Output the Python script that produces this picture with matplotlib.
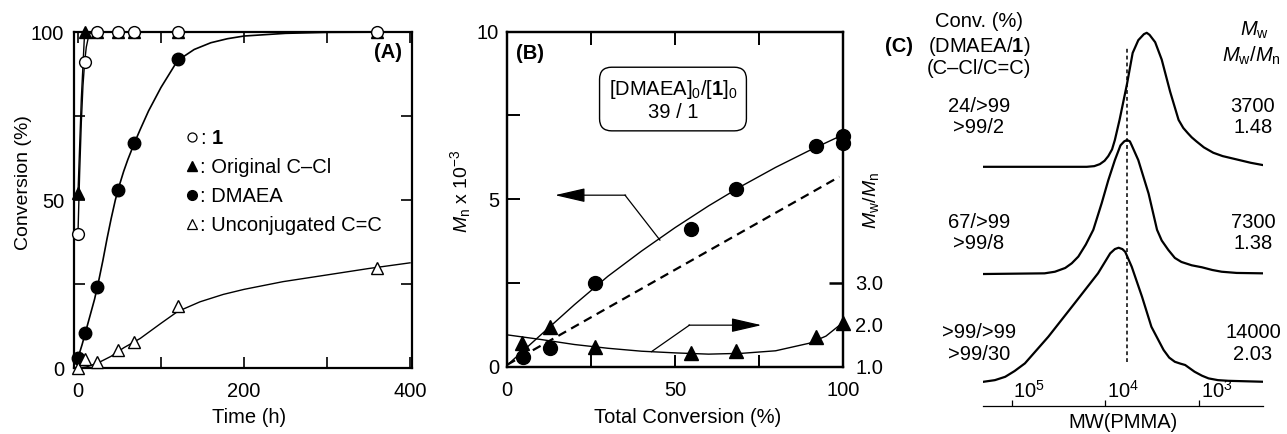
import matplotlib.pyplot as plt
from matplotlib.lines import Line2D

plt.rcParams['font.family'] = ['Liberation Sans', 'DejaVu Sans']
plt.rcParams['mathtext.fontset'] = 'custom'
plt.rcParams['mathtext.rm'] = 'Liberation Sans'
plt.rcParams['mathtext.it'] = 'Liberation Sans:italic'
plt.rcParams['mathtext.bf'] = 'Liberation Sans:bold'
plt.rcParams['font.size'] = 14.5

# ---------- (A) conversion vs time ----------
t_pts = [0, 8, 23, 48, 68, 120, 360]
conv_1 = [40, 91, 100, 100, 100, 100, 100]
conv_ccl = [52, 100, 100, 100, 100, 100, 100]
t_dmaea = [0, 8, 23, 48, 68, 120]
conv_dmaea = [3, 10.5, 24, 53, 67, 92]
conv_cc = [0, 2.6, 1.9, 5.5, 7.8, 18.5, 29.9]

# guide curves
fit1_t = [0, 2, 4, 6, 8, 10, 13, 16, 400]
fit1_y = [40, 58, 73, 84, 91, 95.5, 99, 100, 100]
fitccl_t = [0, 4, 8, 400]
fitccl_y = [52, 80, 100, 100]
fitdm_t = [0, 5, 10, 15, 20, 25, 30, 35, 40, 45, 50, 55, 60, 68, 75, 85, 100,
           120, 140, 160, 180, 200, 250, 300, 400]
fitdm_y = [3, 7, 11.5, 16, 20.5, 26, 32, 38.5, 44.5, 50, 54.5, 58.5, 62, 67, 71,
           76.5, 83.5, 91.5, 94.8, 96.8, 98, 98.8, 99.6, 99.9, 100]
fitcc_t = [0, 10, 24, 40, 55, 75, 100, 120, 147, 175, 200, 247, 300, 350, 400]
fitcc_y = [0, 0.3, 1.5, 3.5, 6, 8.8, 13.3, 16.8, 19.7, 21.9, 23.4, 25.7, 27.7,
           29.6, 31.3]

# ---------- (B) Mn and Mw/Mn vs total conversion ----------
b_conv_mn = [4.6, 12.7, 26.1, 54.7, 68.2, 92, 100, 100]
b_mn = [0.30, 0.57, 2.51, 4.10, 5.29, 6.59, 6.89, 6.69]
b_conv_pdi = [4.3, 12.7, 26.1, 54.7, 68.2, 92, 100]
b_pdi = [1.56, 1.96, 1.48, 1.32, 1.38, 1.70, 2.05]
fitmn_x = [0, 10, 20, 30, 40, 50, 60, 70, 80, 90, 100]
fitmn_y = [0.05, 0.95, 1.85, 2.7, 3.45, 4.15, 4.8, 5.4, 5.95, 6.45, 6.92]
theo_x = [0, 99]
theo_y = [0.06, 5.67]
fitpdi_x = [0, 10, 20, 30, 40, 50, 60, 70, 80, 90, 95, 100]
fitpdi_y = [1.76, 1.65, 1.53, 1.44, 1.37, 1.33, 1.30, 1.32, 1.38, 1.56, 1.73, 2.05]

# ---------- (C) SEC curves (log MW, normalised RI) ----------
sec_top_x = [5.30, 4.20, 4.12, 4.06, 4.01, 3.97, 3.93, 3.90, 3.85, 3.77, 3.71,
             3.65, 3.63, 3.59, 3.56, 3.53, 3.47, 3.40, 3.31, 3.22, 3.17, 3.12,
             3.08, 3.03, 2.95, 2.85, 2.75, 2.60, 2.45, 2.32]
sec_top_y = [0, 0, 0.005, 0.02, 0.045, 0.08, 0.13, 0.20, 0.35, 0.62, 0.85,
             0.945, 0.96, 0.99, 1.0, 0.985, 0.93, 0.80, 0.56, 0.35, 0.29, 0.25,
             0.22, 0.19, 0.145, 0.105, 0.08, 0.055, 0.03, 0.013]
sec_mid_x = [5.30, 4.65, 4.54, 4.43, 4.36, 4.29, 4.21, 4.13, 4.04, 3.97, 3.90,
             3.84, 3.80, 3.77, 3.74, 3.72, 3.65, 3.54, 3.45, 3.40, 3.33, 3.26,
             3.19, 3.08, 2.97, 2.86, 2.76, 2.60, 2.32]
sec_mid_y = [0, 0.005, 0.017, 0.045, 0.08, 0.13, 0.22, 0.33, 0.53, 0.70, 0.85,
             0.96, 0.99, 1.0, 0.99, 0.96, 0.85, 0.60, 0.33, 0.25, 0.18, 0.12,
             0.09, 0.065, 0.05, 0.03, 0.017, 0.008, 0.005]
sec_bot_x = [5.30, 5.18, 5.07, 4.97, 4.86, 4.61, 4.33, 4.08, 3.95, 3.90, 3.86,
             3.82, 3.79, 3.72, 3.61, 3.51, 3.38, 3.32, 3.26, 3.20, 3.15, 3.10,
             3.05, 2.97, 2.90, 2.80, 2.69, 2.32]
sec_bot_y = [0, 0.012, 0.037, 0.08, 0.137, 0.336, 0.585, 0.809, 0.958, 0.99, 1.0,
             0.99, 0.97, 0.858, 0.634, 0.410, 0.237, 0.18, 0.149, 0.135, 0.125,
             0.10, 0.075, 0.045, 0.025, 0.012, 0.007, 0]
sec_offsets = [1.604, 0.804, 0.0]
conv_labels = [('24/>99', '>99/2'), ('67/>99', '>99/8'), ('>99/>99', '>99/30')]
mw_labels = [('3700', '1.48'), ('7300', '1.38'), ('14000', '2.03')]
theo_logmw = 3.774

W, H = 1287, 434


def fx(x):
    return x / W


def fy(y):
    return 1 - y / H


fig = plt.figure(figsize=(12.87, 4.34), dpi=100)

# ======== panel A ========
ax1 = fig.add_axes([fx(74), fy(368), 338 / W, 336 / H])
ax1.plot(fit1_t, fit1_y, 'k-', lw=1.0)
ax1.plot(fitccl_t, fitccl_y, 'k-', lw=1.0)
ax1.plot(fitdm_t, fitdm_y, 'k-', lw=1.2)
ax1.plot(fitcc_t, fitcc_y, 'k-', lw=1.0)
ax1.plot(t_pts, conv_ccl, '^', color='k', ms=9, ls='none', clip_on=False, zorder=3)
ax1.plot(t_pts, conv_1, 'o', mfc='white', mec='k', mew=1.0, ms=8.5, ls='none',
         clip_on=False, zorder=4)
ax1.plot(t_dmaea, conv_dmaea, 'o', color='k', ms=9, ls='none', clip_on=False, zorder=4)
ax1.plot(t_pts, conv_cc, '^', mfc='white', mec='k', mew=1.0, ms=9, ls='none',
         clip_on=False, zorder=4)
ax1.set_xlim(-4.8, 402.4)
ax1.set_ylim(0, 100)
ax1.set_xticks([0, 200, 400])
ax1.set_xticks([100, 300], minor=True)
ax1.set_yticks([0, 50, 100])
ax1.set_yticks([25, 75], minor=True)
ax1.tick_params(which='both', direction='in', top=True, right=True, length=8, width=1.2)
ax1.tick_params(axis='x', which='major', pad=10)
ax1.tick_params(axis='y', which='major', pad=7)
for s in ax1.spines.values():
    s.set_linewidth(1.6)
ax1.set_xlabel('Time (h)')
ax1.xaxis.set_label_coords(0.519, -0.119)
ax1.set_ylabel('Conversion (%)', fontsize=14)
ax1.yaxis.set_label_coords(-0.124, 0.552)
ax1.text(0.929, 0.9375, '(A)', transform=ax1.transAxes, ha='center', va='center',
         fontweight='bold')
handles = [
    Line2D([], [], marker='o', mfc='white', mec='k', mew=0.9, ls='none', ms=6.5),
    Line2D([], [], marker='^', color='k', ls='none', ms=7),
    Line2D([], [], marker='o', color='k', ls='none', ms=7),
    Line2D([], [], marker='^', mfc='white', mec='k', mew=0.9, ls='none', ms=7),
]
labels = [r': $\mathbf{1}$', ': Original C–Cl', ': DMAEA', ': Unconjugated C=C']
ax1.legend(handles, labels, loc='upper left', bbox_to_anchor=(0.3275, 0.712),
           frameon=False, handlelength=0.7, handletextpad=0.05, labelspacing=0.5,
           borderpad=0, borderaxespad=0)

# ======== panel B ========
ax2 = fig.add_axes([fx(507.3), fy(366.7), 335.4 / W, 335 / H])
ax2.plot(fitmn_x, fitmn_y, 'k-', lw=1.0)
ax2.plot(theo_x, theo_y, 'k', lw=1.6, ls=(0, (4, 2.6)))
ax2.plot(b_conv_mn, b_mn, 'o', color='k', ms=10, ls='none', clip_on=False, zorder=4)
ax2.set_xlim(0, 100)
ax2.set_ylim(0, 10)
ax2.set_xticks([0, 50, 100])
ax2.set_xticks([25, 75], minor=True)
ax2.set_yticks([0, 5, 10])
ax2.set_yticks([2.5, 7.5], minor=True)
ax2.tick_params(which='both', direction='in', top=True, right=False, length=9, width=1.4)
ax2.tick_params(axis='x', which='major', pad=10)
ax2.tick_params(axis='y', which='major', pad=6)
for s in ax2.spines.values():
    s.set_linewidth(1.6)
ax2.set_xlabel('Total Conversion (%)')
ax2.xaxis.set_label_coords(0.539, -0.123)
ax2.set_ylabel(r'$M_\mathrm{n}$ x 10$^{-3}$', fontsize=14)
ax2.yaxis.set_label_coords(-0.102, 0.524)
ax2.text(0.068, 0.936, '(B)', transform=ax2.transAxes, ha='center', va='center',
         fontweight='bold')
ax2.text(49.4, 7.96, '[DMAEA]$_0$/[$\\mathbf{1}$]$_0$\n39 / 1', ha='center',
         va='center', linespacing=1.1,
         bbox=dict(boxstyle='round,pad=0.45,rounding_size=0.6', fc='white', ec='k', lw=1.0))
# arrows
ax2.plot([45.5, 35.1], [3.78, 5.12], 'k-', lw=0.9)
ax2.annotate('', xy=(14.2, 5.12), xytext=(35.3, 5.12),
             arrowprops=dict(arrowstyle='-|>,head_length=1.3,head_width=0.3',
                             color='k', lw=0.9, shrinkA=0, shrinkB=0))
ax2.plot([43, 54.3], [0.45, 1.24], 'k-', lw=0.9)
ax2.annotate('', xy=(75.8, 1.24), xytext=(54.1, 1.24),
             arrowprops=dict(arrowstyle='-|>,head_length=1.3,head_width=0.3',
                             color='k', lw=0.9, shrinkA=0, shrinkB=0))

ax2b = ax2.twinx()
ax2b.plot(fitpdi_x, fitpdi_y, 'k-', lw=1.0)
ax2b.plot(b_conv_pdi, b_pdi, '^', color='k', ms=10, ls='none', clip_on=False, zorder=4)
ax2b.set_ylim(1.0, 9.0)
ax2b.set_yticks([1, 2, 3])
ax2b.set_yticklabels(['1.0', '2.0', '3.0'])
ax2b.tick_params(axis='y', direction='in', length=10, width=1.8, pad=9)
for i, tk in enumerate(ax2b.yaxis.get_major_ticks()):
    if i < 2:
        tk.tick2line.set_visible(False)
for s in ax2b.spines.values():
    s.set_linewidth(1.6)
ax2b.set_ylabel(r'$M_\mathrm{w}$/$M_\mathrm{n}$', fontsize=14)
ax2b.yaxis.set_label_coords(1.055, 0.495)

# ======== panel C ========
ax3 = fig.add_axes([fx(983.3), fy(406), 280 / W, 376 / H])
for xs, ys, off in zip([sec_top_x, sec_mid_x, sec_bot_x],
                       [sec_top_y, sec_mid_y, sec_bot_y], sec_offsets):
    ax3.plot(xs, [v + off for v in ys], 'k-', lw=1.6, solid_joinstyle='round')
ax3.plot([theo_logmw, theo_logmw], [0.147, 2.498], 'k', lw=1.1, ls=(0, (2.5, 2)))
ax3.set_xlim(5.304, 2.316)
ax3.set_ylim(-0.181, 2.625)
for side in ['top', 'left', 'right']:
    ax3.spines[side].set_visible(False)
ax3.spines['bottom'].set_linewidth(0.9)
ax3.set_yticks([])
ax3.set_xticks([5, 4, 3])
ax3.set_xticklabels([])
ax3.tick_params(axis='x', direction='in', length=4, width=0.9)
for d in [5, 4, 3]:
    ax3.annotate(f'$10^{d}$', xy=(d, 0), xycoords=('data', 'axes fraction'),
                 xytext=(1, 3), textcoords='offset points', ha='left', va='bottom')
ax3.text(0.5, -0.043, 'MW(PMMA)', transform=ax3.transAxes, ha='center', va='center')

fig.text(fx(899.5), fy(46), '(C)', ha='center', va='center', fontweight='bold')
fig.text(fx(979), fy(21.7), 'Conv. (%)', ha='center', va='center')
fig.text(fx(979), fy(46), r'(DMAEA/$\mathbf{1}$)', ha='center', va='center')
fig.text(fx(979), fy(68.3), '(C–Cl/C=C)', ha='center', va='center')
fig.text(fx(1254), fy(30), r'$M_\mathrm{w}$', ha='center', va='center')
fig.text(fx(1222), fy(56), r'$M_\mathrm{w}$/$M_\mathrm{n}$', ha='left', va='center')
rows_y = [(106, 127.7), (222.7, 243.3), (332.7, 354)]
for (l1, l2), (m1, m2), (y1, y2) in zip(conv_labels, mw_labels, rows_y):
    fig.text(fx(979), fy(y1), l1, ha='center', va='center')
    fig.text(fx(979), fy(y2), l2, ha='center', va='center')
    fig.text(fx(1253), fy(y1), m1, ha='center', va='center')
    fig.text(fx(1253), fy(y2), m2, ha='center', va='center')

fig.savefig('out.png', dpi=100)
